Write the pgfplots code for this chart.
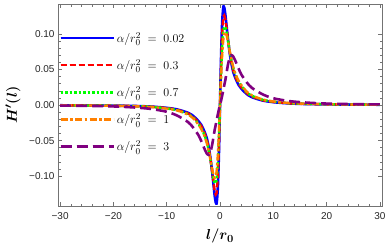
\documentclass[border=0pt]{standalone}
\usepackage{fontspec}
\usepackage{amsmath}
\usepackage{pgfplots}
\usepackage{pgfplotstable}
\pgfplotsset{compat=1.18}
\newfontfamily\tickfont{Liberation Sans}
\definecolor{cblue}{rgb}{0,0,1}
\definecolor{cred}{rgb}{1,0,0}
\definecolor{cgreen}{rgb}{0,1,0}
\definecolor{corange}{rgb}{1,0.5,0}
\definecolor{cpurple}{rgb}{0.5,0,0.5}
\definecolor{framegray}{gray}{0.45}
\pgfplotstableread{
l blue red green orange purple
-30 -0.0004 -0.0004 -0.0005 -0.0005 -0.0008
-25 -0.0006 -0.0006 -0.0007 -0.0007 -0.0012
-20 -0.0009 -0.0010 -0.0011 -0.0012 -0.0020
-16 -0.0014 -0.0015 -0.0017 -0.0018 -0.0035
-13 -0.0022 -0.0024 -0.0026 -0.0028 -0.0055
-10 -0.0040 -0.0044 -0.0048 -0.0050 -0.0095
-8 -0.0063 -0.0068 -0.0075 -0.0078 -0.0150
-6 -0.0110 -0.0120 -0.0130 -0.0135 -0.0240
-5 -0.0155 -0.0170 -0.0180 -0.0190 -0.0320
-4 -0.0230 -0.0250 -0.0270 -0.0280 -0.0430
-3.5 -0.0280 -0.0300 -0.0330 -0.0340 -0.0510
-3 -0.0360 -0.0380 -0.0410 -0.0420 -0.0600
-2.5 -0.0461 -0.0486 -0.0515 -0.0530 -0.0680
-2.1 -0.0601 -0.0624 -0.0647 -0.0656 -0.0700
-1.8 -0.0742 -0.0759 -0.0770 -0.0768 -0.0660
-1.5 -0.0922 -0.0923 -0.0907 -0.0887 -0.0570
-1.2 -0.1133 -0.1102 -0.1038 -0.0990 -0.0440
-1.0 -0.1273 -0.1205 -0.1097 -0.1025 -0.0350
-0.8 -0.1371 -0.1259 -0.1101 -0.1006 -0.0280
-0.7 -0.1386 -0.1251 -0.1071 -0.0967 -0.0240
-0.6 -0.1362 -0.1208 -0.1013 -0.0904 -0.0200
-0.4 -0.1153 -0.0988 -0.0796 -0.0696 -0.0130
-0.2 -0.0679 -0.0567 -0.0444 -0.0382 -0.0060
0 0 0 0 0 0
0.2 0.0679 0.0567 0.0444 0.0382 0.0060
0.4 0.1153 0.0988 0.0796 0.0696 0.0130
0.6 0.1362 0.1208 0.1013 0.0904 0.0200
0.7 0.1386 0.1251 0.1071 0.0967 0.0240
0.8 0.1371 0.1259 0.1101 0.1006 0.0280
1.0 0.1273 0.1205 0.1097 0.1025 0.0350
1.2 0.1133 0.1102 0.1038 0.0990 0.0440
1.5 0.0922 0.0923 0.0907 0.0887 0.0570
1.8 0.0742 0.0759 0.0770 0.0768 0.0660
2.1 0.0601 0.0624 0.0647 0.0656 0.0700
2.5 0.0461 0.0486 0.0515 0.0530 0.0680
3 0.0360 0.0380 0.0410 0.0420 0.0600
3.5 0.0280 0.0300 0.0330 0.0340 0.0510
4 0.0230 0.0250 0.0270 0.0280 0.0430
5 0.0155 0.0170 0.0180 0.0190 0.0320
6 0.0110 0.0120 0.0130 0.0135 0.0240
8 0.0063 0.0068 0.0075 0.0078 0.0150
10 0.0040 0.0044 0.0048 0.0050 0.0095
13 0.0022 0.0024 0.0026 0.0028 0.0055
16 0.0014 0.0015 0.0017 0.0018 0.0035
20 0.0009 0.0010 0.0011 0.0012 0.0020
25 0.0006 0.0006 0.0007 0.0007 0.0012
30 0.0004 0.0004 0.0005 0.0005 0.0008
}\datatable
\begin{document}
\begin{tikzpicture}
\begin{axis}[
  name=ax,
  scale only axis,
  width=324pt, height=202pt,
  xmin=-30.4, xmax=30.4,
  ymin=-0.142, ymax=0.142,
  xtick={-30,-20,-10,0,10,20,30},
  xticklabels={−30,−20,−10,0,10,20,30},
  ytick={-0.1,-0.05,0,0.05,0.1},
  yticklabels={−0.10,−0.05,0.00,0.05,0.10},
  minor x tick num=4,
  minor y tick num=4,
  tick align=inside,
  major tick length=4pt,
  minor tick length=2.5pt,
  every tick/.style={framegray, line width=0.5pt},
  axis line style={framegray, line width=0.7pt},
  tick label style={font=\tickfont\fontsize{10}{12}\selectfont, text=black!85},
  xticklabel style={yshift=-3pt},
  xlabel={$\boldsymbol{l/r_0}$},
  ylabel={$\boldsymbol{H'(l)}$},
  xlabel style={at={(axis description cs:0.5,-0.15)}, anchor=center, font=\fontsize{15}{18}\selectfont},
  ylabel style={at={(axis description cs:-0.139,0.5)}, anchor=center, font=\fontsize{15}{18}\selectfont},
  legend cell align=left,
  legend style={at={(axis description cs:0,1)}, anchor=north west, draw=none, fill=none,
    xshift=1pt, yshift=-26pt, inner sep=0pt, row sep=11.5pt,
    font=\fontsize{13}{15}\selectfont},
  legend image code/.code={\draw[#1] (0pt,0pt) -- (43pt,0pt); \path (0pt,0pt) -- (53pt,0pt);},
]
\addplot[cblue, line width=2.6pt, smooth] table[x=l,y=blue]{\datatable};
\addlegendentry{$\alpha/r_0^2\;=\;0.02$}
\addplot[cred, line width=2.4pt, dash pattern=on 6pt off 3pt, smooth] table[x=l,y=red]{\datatable};
\addlegendentry{$\alpha/r_0^2\;=\;0.3$}
\addplot[cgreen, line width=2.4pt, dash pattern=on 2.5pt off 2pt, smooth] table[x=l,y=green]{\datatable};
\addlegendentry{$\alpha/r_0^2\;=\;0.7$}
\addplot[corange, line width=2.4pt, dash pattern=on 7pt off 2.5pt on 2.5pt off 2.5pt, smooth] table[x=l,y=orange]{\datatable};
\addlegendentry{$\alpha/r_0^2\;=\;1$}
\addplot[cpurple, line width=2.6pt, dash pattern=on 11pt off 5pt, smooth] table[x=l,y=purple]{\datatable};
\addlegendentry{$\alpha/r_0^2\;=\;3$}
\end{axis}
\pgfresetboundingbox
\path ([shift={(-58pt,-44pt)}]ax.south west) rectangle ([shift={(8pt,4pt)}]ax.north east);
\end{tikzpicture}
\end{document}
